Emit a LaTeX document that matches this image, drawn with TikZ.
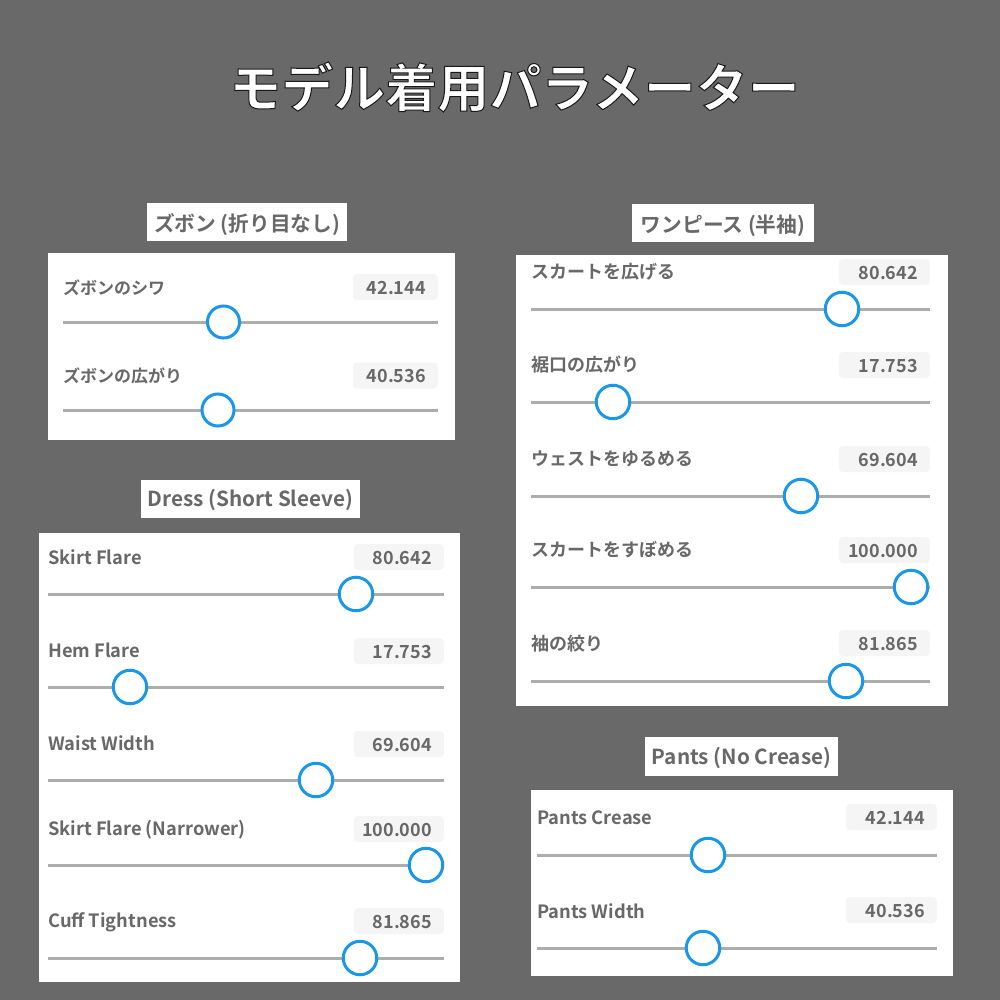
\documentclass[tikz,border=0pt]{standalone}
\usepackage{fontspec}
\setmainfont{Noto Sans CJK JP}[BoldFont=Noto Sans CJK JP Bold]
\definecolor{bgcol}{HTML}{696969}
\definecolor{txtcol}{HTML}{686868}
\definecolor{trackcol}{HTML}{ADADAD}
\definecolor{thumbcol}{HTML}{1A96EA}
\definecolor{boxcol}{HTML}{F5F5F5}
\newcommand{\outlined}[1]{\special{pdf:code q 2 Tr 1 w 0.1 G 1 g}#1\special{pdf:code Q}}
\tikzset{
  panel/.style={fill=white,draw=none},
  headbox/.style={fill=white,inner sep=0pt,text height=23pt,text depth=3pt,text=txtcol,font=\bfseries\fontsize{20.7}{24}\selectfont},
  latinhead/.style={headbox,text height=18pt,text depth=3pt},
  rowlabel/.style={anchor=west,inner sep=0pt,yshift=-1pt,text=txtcol,font=\bfseries\fontsize{18}{20}\selectfont},
  smalllabel/.style={rowlabel,font=\bfseries\fontsize{17}{20}\selectfont},
  latinlabel/.style={rowlabel,font=\bfseries\fontsize{18.3}{20}\selectfont},
  valbox/.style={fill=boxcol,rounded corners=4pt,inner sep=0pt,minimum height=26pt},
  valtext/.style={anchor=east,inner sep=0pt,yshift=-1pt,text=txtcol,font=\bfseries\fontsize{18}{20}\selectfont},
  track/.style={draw=trackcol,line width=3pt},
  thumb/.style={circle,draw=thumbcol,fill=white,line width=3pt,inner sep=0pt,minimum size=\thumbD pt},
  titletext/.style={inner sep=0pt,font=\bfseries\fontsize{52}{60}\selectfont},
}
% name, track y, thumb x, label y, box y, label, value
\newcommand{\sliderrow}[8][rowlabel]{
  \coordinate (#2L) at (\trackL,#3);
  \coordinate (#2R) at (\trackR,#3);
  \draw [track] (#2L) -- (#2R);
  \node [thumb] (#2thumb) at (#4,#3) {};
  \node [#1] (#2lab) at (\trackL,#5) {#7};
  \node [valbox,minimum width=\boxW pt,anchor=east] (#2box) at (\trackR,#6) {};
  \node [valtext] (#2val) at ([xshift=-12pt]#2box.east) {#8};
}
\begin{document}
\begin{tikzpicture}[x=1pt,y=-1pt]
  \useasboundingbox (0,0) rectangle (1000,1000);
  \fill [bgcol] (0,0) rectangle (1000,1000);
  % title
  \node [titletext,text=white] (title) at (514.5,87) {\outlined{モデル着用パラメーター}};
  % panels
  \fill [panel] (48,253) rectangle (455,440);
  \fill [panel] (39,533) rectangle (460,982);
  \fill [panel] (516,255) rectangle (948,706);
  \fill [panel] (531,790) rectangle (953,976);
  % headings
  \node [headbox,minimum width=200pt,minimum height=38pt] (headA) at (247,222) {ズボン (折り目なし)};
  \node [latinhead,minimum width=219pt,minimum height=38pt] (headB) at (250.5,499) {Dress (Short Sleeve)};
  \node [headbox,minimum width=182pt,minimum height=38pt] (headC) at (723,223) {ワンピース (半袖)};
  \node [latinhead,minimum width=193pt,minimum height=39pt] (headD) at (741.5,756.5) {Pants (No Crease)};
  % top left
  \def\trackL{63}\def\trackR{438}\def\boxW{85}\def\thumbD{32}
  \sliderrow[smalllabel]{pa}{322}{223.5}{287}{287}{ズボンのシワ}{42.144}
  \sliderrow[smalllabel]{pb}{410}{218}{375}{375.5}{ズボンの広がり}{40.536}
  % bottom left
  \def\trackL{48}\def\trackR{444}\def\boxW{90}\def\thumbD{33.5}
  \sliderrow[latinlabel]{da}{594}{356}{556}{557}{Skirt Flare}{80.642}
  \sliderrow[latinlabel]{db}{687}{130}{649}{651}{Hem Flare}{17.753}
  \sliderrow[latinlabel]{dc}{780}{316}{742}{744}{Waist Width}{69.604}
  \sliderrow[latinlabel]{dd}{865}{426}{829}{829}{Skirt Flare (Narrower)}{100.000}
  \sliderrow[latinlabel]{de}{958}{360}{921}{921}{Cuff Tightness}{81.865}
  % top right
  \def\trackL{531}\def\trackR{930}\def\boxW{91}
  \sliderrow{oa}{309}{842}{271}{272}{スカートを広げる}{80.642}
  \sliderrow{ob}{402}{613}{364}{365}{裾口の広がり}{17.753}
  \sliderrow{oc}{496}{801}{458}{459}{ウェストをゆるめる}{69.604}
  \sliderrow{od}{587}{911}{549}{550}{スカートをすぼめる}{100.000}
  \sliderrow{oe}{681}{846}{643}{643}{袖の絞り}{81.865}
  % bottom right
  \def\trackL{537}\def\trackR{937}\def\boxW{91}
  \sliderrow[latinlabel]{na}{855}{708}{817}{817}{Pants Crease}{42.144}
  \sliderrow[latinlabel]{nb}{948}{703}{910}{910}{Pants Width}{40.536}
\end{tikzpicture}
\end{document}
